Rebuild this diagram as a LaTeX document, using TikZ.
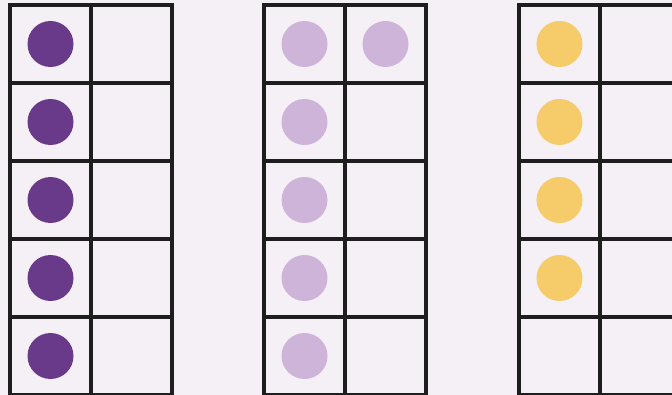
\documentclass[tikz,border=0pt]{standalone}
\usetikzlibrary{positioning}

\definecolor{bgpaper}{HTML}{F5F0F6}
\definecolor{gridline}{HTML}{1E1E1E}
\definecolor{darkplum}{HTML}{6A3A8A}
\definecolor{lilac}{HTML}{CDB4D8}
\definecolor{honey}{HTML}{F6CB69}

\begin{document}
\begin{tikzpicture}[
    x=1pt, y=-1pt,
    cell/.style={rectangle, draw=gridline, line width=4pt, minimum width=81pt, minimum height=78pt, inner sep=0pt, outer sep=0pt, anchor=north west},
    dot/.style={circle, minimum size=46pt, inner sep=0pt}
]

% Background
\fill[bgpaper] (0,0) rectangle (672,395);
\useasboundingbox (0,0) rectangle (672,395);

% Ten frames
\foreach \f/\x in {a/10, b/264, c/519} {
    \foreach \r in {1,...,5} {
        \foreach \c in {1,2} {
            \node[cell] (\f-\r-\c) at ({\x+(\c-1)*81}, {5+(\r-1)*78}) {};
        }
    }
}

% Counters
\foreach \r in {1,...,5} {
    \node[dot, fill=darkplum] (da-\r) at (a-\r-1.center) {};
    \node[dot, fill=lilac] (db-\r) at (b-\r-1.center) {};
}
\node[dot, fill=lilac] (db-extra) at (b-1-2.center) {};
\foreach \r in {1,...,4} {
    \node[dot, fill=honey] (dc-\r) at (c-\r-1.center) {};
}

\end{tikzpicture}
\end{document}
